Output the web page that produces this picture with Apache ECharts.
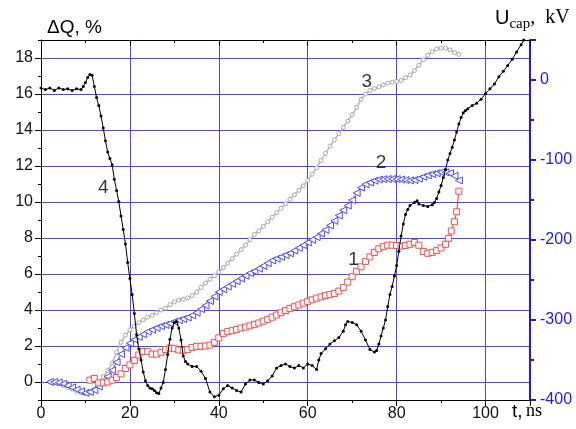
<!DOCTYPE html>
<html><head><meta charset="utf-8">
<script src="https://cdn.jsdelivr.net/npm/echarts@6/dist/echarts.min.js"></script>
<style>html,body{margin:0;padding:0;background:#fff}#c{width:576px;height:429px}</style>
</head><body><div id="c"></div>
<script>
// t (ns), ΔQ (%) — curve 3 (gray)
const curve3 = [[2,0],[3,-0.03],[4,-0.1],[5,-0.2],[6,-0.3],[7,-0.4],[8,-0.52],[9,-0.6],[10,-0.65],[11,-0.58],[12,-0.4],[13,-0.1],[14,0.3],[15,0.65],[16,1.05],[17,1.65],[18,2.2],[19,2.6],[20,2.9],[21,3.1],[22,3.3],[23,3.45],[24,3.6],[25,3.7],[26,3.85],[27,4.0],[28,4.1],[29,4.3],[30,4.45],[31,4.55],[32,4.6],[33,4.67],[34,4.8],[35,5.0],[36,5.25],[37,5.5],[38,5.7],[39,5.9],[40,6.1],[41,6.35],[42,6.6],[43,6.85],[44,7.1],[45,7.35],[46,7.6],[47,7.9],[48,8.2],[49,8.4],[50,8.65],[51,8.9],[52,9.15],[53,9.4],[54,9.65],[55,9.9],[56,10.15],[57,10.4],[58,10.65],[59,10.9],[60,11.2],[61,11.55],[62,11.9],[63,12.3],[64,12.7],[65,13.1],[66,13.45],[67,13.8],[68,14.15],[69,14.5],[70,14.85],[71,15.25],[72,15.7],[73,16.0],[74,16.2],[75,16.3],[76,16.4],[77,16.5],[78,16.6],[79,16.65],[80,16.7],[81,16.75],[82,16.9],[83,17.05],[84,17.3],[85,17.6],[86,17.9],[87,18.15],[88,18.35],[89,18.5],[90,18.55],[91,18.55],[92,18.45],[93,18.3],[94,18.2]];
// curve 2 (blue)
const curve2 = [[2,0],[3,0],[4,-0.03],[5,-0.1],[6,-0.2],[7,-0.3],[8,-0.42],[9,-0.52],[10,-0.6],[11,-0.55],[12,-0.45],[13,-0.25],[14,0],[15,0.3],[16,0.65],[17,1.1],[18,1.55],[19,1.9],[20,2.15],[21,2.35],[22,2.5],[23,2.65],[24,2.8],[25,2.9],[26,3.0],[27,3.1],[28,3.17],[29,3.25],[30,3.35],[31,3.43],[32,3.5],[33,3.58],[34,3.7],[35,3.85],[36,4.05],[37,4.25],[38,4.5],[39,4.75],[40,5.0],[41,5.15],[42,5.3],[43,5.45],[44,5.6],[45,5.75],[46,5.9],[47,6.05],[48,6.15],[49,6.3],[50,6.45],[51,6.6],[52,6.75],[53,6.85],[54,6.95],[55,7.05],[56,7.15],[57,7.3],[58,7.45],[59,7.6],[60,7.75],[61,7.9],[62,8.05],[63,8.25],[64,8.45],[65,8.7],[66,8.95],[67,9.25],[68,9.55],[69,9.8],[70,10.1],[71,10.5],[72,10.8],[73,10.98],[74,11.08],[75,11.18],[76,11.25],[77,11.27],[78,11.28],[79,11.28],[80,11.27],[81,11.25],[82,11.22],[83,11.2],[84,11.22],[85,11.3],[86,11.4],[87,11.48],[88,11.55],[89,11.6],[90,11.65],[91,11.65],[92,11.6],[93,11.45],[94,11.2]];
// curve 1 (red)
const curve1 = [[11,0.1],[12,0.2],[13,-0.05],[14,-0.05],[15,0.0],[16,0.1],[17,0.25],[18,0.45],[19,0.75],[20,0.95],[21,1.2],[22,1.5],[23,1.7],[24,1.7],[25,1.55],[26,1.55],[27,1.65],[28,1.8],[29,1.88],[30,1.85],[31,1.78],[32,1.76],[33,1.8],[34,1.92],[35,1.98],[36,1.98],[37,2.0],[38,2.05],[39,2.2],[40,2.45],[41,2.7],[42,2.8],[43,2.85],[44,2.92],[45,3.0],[46,3.05],[47,3.12],[48,3.2],[49,3.28],[50,3.38],[51,3.48],[52,3.6],[53,3.72],[54,3.85],[55,3.97],[56,4.08],[57,4.18],[58,4.28],[59,4.38],[60,4.48],[61,4.57],[62,4.66],[63,4.73],[64,4.8],[65,4.85],[66,4.92],[67,5.05],[68,5.25],[69,5.55],[70,5.85],[71,6.15],[72,6.4],[73,6.7],[74,6.95],[75,7.2],[76,7.4],[77,7.52],[78,7.6],[79,7.6],[80,7.58],[81,7.55],[82,7.58],[83,7.65],[84,7.75],[85,7.6],[86,7.25],[87,7.15],[88,7.2],[89,7.3],[90,7.45],[91,7.65],[91.7,7.98],[92.3,8.39],[93,8.9],[93.5,9.46],[94,10.6]];
// curve 4 (black), U_cap (kV)
const curve4 = [[0,-10],[1,-12],[2,-10],[3,-13],[4,-10],[5,-12],[6,-11],[7,-13],[8,-11],[9,-12],[9.5,-8],[10,-3],[10.5,3],[11,7],[11.5,6],[12,-8],[12.5,-22],[13,-32],[13.5,-45],[14,-60],[14.5,-76],[15,-90],[15.5,-98],[16,-106],[16.5,-124],[17,-138],[17.5,-152],[18,-170],[18.5,-187],[19,-205],[19.5,-228],[20,-248],[20.5,-268],[21,-292],[21.5,-318],[22,-336],[22.5,-350],[23,-365],[23.5,-376],[24,-382],[24.5,-385],[25,-386],[25.5,-388],[26,-391],[26.5,-392],[27,-385],[27.5,-378],[28,-362],[28.5,-343],[29,-324],[29.5,-310],[30,-303],[30.5,-302],[31,-310],[31.5,-325],[32,-345],[32.5,-352],[33,-355],[34,-358],[35,-358],[36,-364],[37,-373],[38,-390],[39,-396],[40,-394],[41,-386],[42,-382],[43,-385],[44,-388],[45,-390],[46,-380],[47,-375],[48,-375],[49,-378],[50,-380],[51,-376],[52,-370],[53,-360],[54,-357],[55,-355],[56,-358],[57,-360],[58,-357],[59,-360],[60,-355],[61,-357],[62,-362],[62.5,-350],[63,-342],[64,-336],[65,-330],[66,-326],[67,-322],[68,-314],[68.5,-306],[69,-302],[70,-303],[71,-306],[72,-314],[73,-325],[74,-337],[75,-340],[75.5,-338],[76,-330],[76.5,-320],[77,-310],[77.5,-300],[78,-283],[78.5,-268],[79,-258],[79.5,-245],[80,-232],[80.5,-214],[81,-195],[81.5,-180],[82,-168],[82.5,-162],[83,-157],[84,-153],[84.6,-151],[85,-155],[86,-157],[87,-158],[88,-156],[88.5,-153],[89,-148],[89.5,-140],[90,-132],[90.5,-122],[91,-112],[91.5,-100],[92,-92],[92.5,-84],[93,-75],[93.5,-65],[94,-55],[94.5,-47],[95,-41],[95.5,-38],[96,-36],[97,-32],[98,-29],[99,-24],[100,-17],[101,-11],[102,-5],[103,4],[104,11],[105,18],[106,26],[107,35],[108,44],[108.6,50]];

// left-axis tick labels
const leftTicks = [0,2,4,6,8,10,12,14,16,18];
const curveLabels = [{text:'1', t:70.3, v:6.8}, {text:'2', t:76.5, v:12.2}, {text:'3', t:73.3, v:16.7}, {text:'4', t:14, v:10.8}];

const sans = "'Liberation Sans', Arial, sans-serif";
const serif = "'Liberation Serif', 'Times New Roman', serif";
const gridBlue = '#4646ff';

const chart = echarts.init(document.getElementById('c'), null, {renderer:'canvas'});
chart.setOption({
  animation:false,
  backgroundColor:'#fff',
  grid:{left:41, right:46, top:40, bottom:29, show:false},
  xAxis:[{
    type:'value', min:0, max:110, interval:20, position:'bottom',
    axisLine:{show:true, onZero:false, lineStyle:{color:'#000', width:1}},
    axisTick:{show:true, inside:false, length:6, lineStyle:{color:'#000'}},
    minorTick:{show:true, splitNumber:2, length:3, lineStyle:{color:'#000'}},
    axisLabel:{show:true, margin:6, fontFamily:sans, fontSize:16, color:'#111', showMaxLabel:false},
    splitLine:{show:true, lineStyle:{color:gridBlue, width:1}}
  },{
    type:'value', min:0, max:110, interval:20, position:'top',
    axisLine:{show:true, onZero:false, lineStyle:{color:'#000', width:1}},
    axisTick:{show:true, inside:true, length:6, lineStyle:{color:'#000'}},
    minorTick:{show:true, splitNumber:2, length:3, lineStyle:{color:'#000'}},
    axisLabel:{show:false}, splitLine:{show:false}
  }],
  yAxis:[{
    type:'value', min:-1, max:19, interval:1, position:'left',
    axisLine:{show:true, onZero:false, lineStyle:{color:'#000', width:1}},
    axisTick:{show:true, inside:false, length:3, lineStyle:{color:'#000'}},
    axisLabel:{show:true, margin:8, fontFamily:sans, fontSize:16, color:'#111',
      formatter: v => leftTicks.indexOf(Math.round(v)) >= 0 && Math.abs(v-Math.round(v))<1e-6 ? String(Math.round(v)) : ''},
    splitLine:{show:true, lineStyle:{color:['rgba(0,0,0,0)', gridBlue], width:1}}
  },{
    type:'value', min:-400, max:50, interval:100, position:'right',
    axisLine:{show:true, onZero:false, lineStyle:{color:'#1a1aff', width:2}},
    axisTick:{show:true, inside:false, length:6, lineStyle:{color:'#1a1aff', width:2}},
    minorTick:{show:true, splitNumber:2, length:4, lineStyle:{color:'#1a1aff', width:2}},
    axisLabel:{show:true, margin:10, fontFamily:sans, fontSize:16, color:'#1a1aff', showMaxLabel:false},
    splitLine:{show:false}
  },{
    type:'value', min:-1, max:19, interval:1, position:'left',
    axisLine:{show:false},
    axisTick:{show:true, inside:false, length:6, customValues:leftTicks, lineStyle:{color:'#000'}},
    axisLabel:{show:false}, splitLine:{show:false}
  }],
  series:[
    {type:'line', name:'3', data:curve3, xAxisIndex:0, yAxisIndex:0, symbol:'circle', symbolSize:4,
      itemStyle:{color:'#ffffff', borderColor:'#a8a8a8', borderWidth:1}, lineStyle:{color:'#b8b8b8', width:1.5}, z:3},
    {type:'line', name:'2', data:curve2, xAxisIndex:0, yAxisIndex:0, symbol:'triangle', symbolRotate:90, symbolSize:7,
      itemStyle:{color:'#ffffff', borderColor:'#4a4aff', borderWidth:1}, lineStyle:{color:'#4a4aff', width:1}, z:4},
    {type:'line', name:'1', data:curve1, xAxisIndex:0, yAxisIndex:0, symbol:'rect', symbolSize:6,
      itemStyle:{color:'#ffffff', borderColor:'#ff4c4c', borderWidth:1}, lineStyle:{color:'#ff3030', width:1}, z:5},
    {type:'line', name:'4', data:curve4, xAxisIndex:0, yAxisIndex:1, symbol:'circle', symbolSize:3,
      itemStyle:{color:'#000'}, lineStyle:{color:'#000', width:1}, z:6, clip:true},
    {type:'scatter', data:curveLabels.map(d=>[d.t,d.v,d.text]), xAxisIndex:0, yAxisIndex:0, symbolSize:0, silent:true, z:7,
      label:{show:true, position:'inside', formatter:p=>p.data[2], fontFamily:sans, fontSize:19, color:'#000'}}
  ],
  graphic:[
    {type:'text', left:47, top:18, style:{text:'ΔQ, %', font:'19px '+sans, fill:'#000'}},
    {type:'text', left:495, top:8, style:{rich:{u:{fontFamily:sans, fontSize:20}, s:{fontFamily:serif, fontSize:15, padding:[12,0,0,0]}, k:{fontFamily:serif, fontSize:20}}, text:'{u|U}{s|cap}{k|,  kV}'}},
    {type:'text', left:512, top:402, style:{rich:{a:{fontFamily:sans, fontSize:19}, b:{fontFamily:serif, fontSize:18}}, text:'{a|t,} {b|ns}'}}
  ]
});
</script></body></html>
